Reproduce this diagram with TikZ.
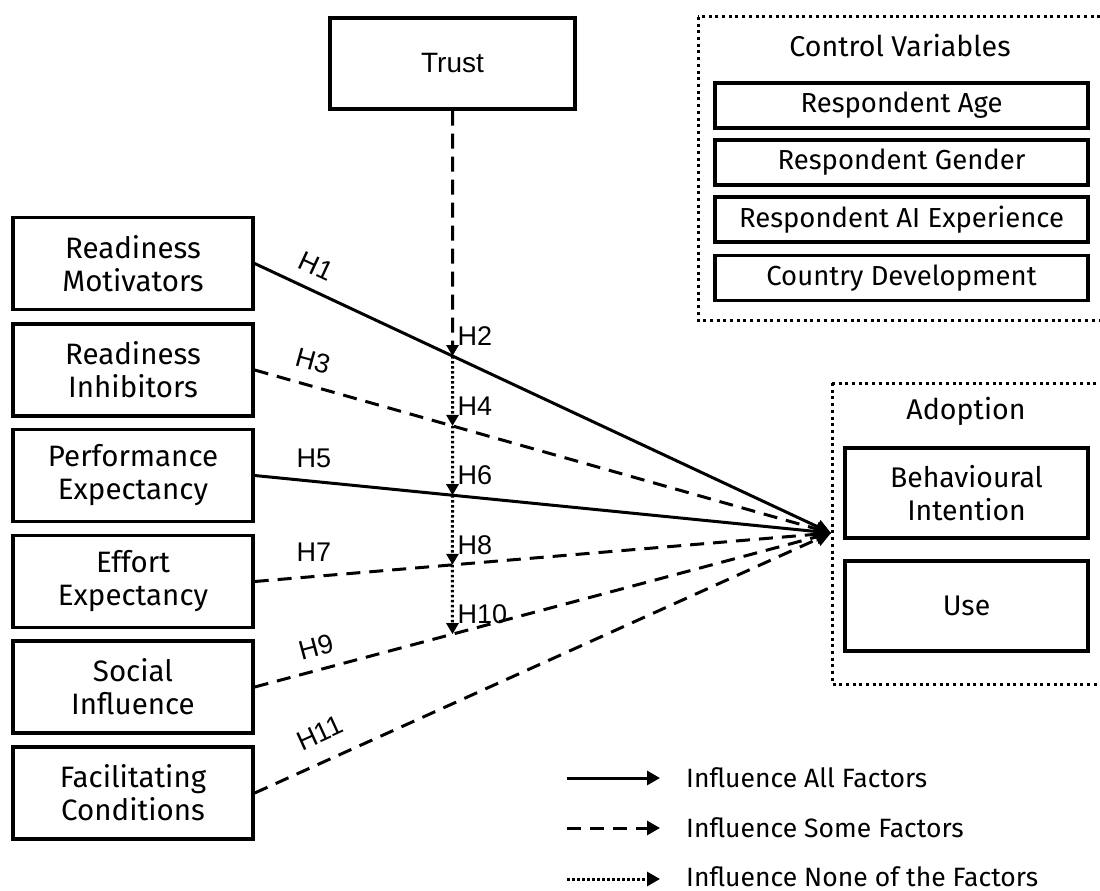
\documentclass[tikz,border=0pt]{standalone}
\usepackage{fontspec}
\setmainfont{Fira Sans}
\newfontfamily\arialf{Liberation Sans}
\usetikzlibrary{arrows.meta,calc}
\begin{document}
\begin{tikzpicture}[x=1pt,y=-1pt,
  box/.style={draw,line width=3.4pt,minimum width=240pt,minimum height=92pt,align=center,inner sep=0pt,font=\fontsize{29.5}{33}\selectfont},
  cvbox/.style={draw,line width=3.4pt,minimum width=373pt,minimum height=45pt,inner sep=0pt,font=\fontsize{27.5}{30}\selectfont},
  adbox/.style={draw,line width=3.4pt,minimum width=243pt,minimum height=90pt,align=center,inner sep=0pt,font=\fontsize{28.4}{33}\selectfont},
  grp/.style={line width=3pt,dash pattern=on 3pt off 3.7pt},
  title/.style={font=\fontsize{28.6}{32}\selectfont},
  hlab/.style={font=\arialf\fontsize{27}{30}\selectfont,inner sep=0pt},
  solidc/.style={line width=3pt,-{Triangle[length=15pt,width=14pt]}},
  dashc/.style={line width=3pt,dash pattern=on 14pt off 9pt,-{Triangle[length=15pt,width=14pt]}},
  vdash/.style={line width=3pt,dash pattern=on 15pt off 8pt,-{Triangle[length=11pt,width=12pt]}},
  vdot/.style={line width=3pt,dash pattern=on 2.5pt off 2.5pt,-{Triangle[length=11pt,width=12pt]}},
  legtext/.style={anchor=west,font=\fontsize{26.5}{30}\selectfont,inner sep=0pt},
  legsolid/.style={line width=3pt,-{Triangle[length=13pt,width=14pt]}},
  legdash/.style={line width=3pt,dash pattern=on 14pt off 9pt,-{Triangle[length=13pt,width=14pt]}},
  legdot/.style={line width=3pt,dash pattern=on 2.5pt off 2.5pt,-{Triangle[length=13pt,width=14pt]}}
]
\useasboundingbox (0,0) rectangle (1100,891);

% Trust
\node[box,minimum width=245pt,minimum height=91pt,font=\arialf\fontsize{28}{33}\selectfont] (trust) at (452.5,63.5) {Trust};

% Left boxes
\node[box] (rm) at (133,263.5) {Readiness\\Motivators};
\node[box] (ri) at (133,370) {Readiness\\Inhibitors};
\node[box] (pe) at (133,475.5) {Performance\\Expectancy};
\node[box] (ee) at (133,581.5) {Effort\\Expectancy};
\node[box] (si) at (133,687) {Social\\Influence};
\node[box] (fc) at (133,793) {Facilitating\\Conditions};

% Control variables
\draw[grp] (698,17) rectangle (1112,320);
\node[title] (cvt) at (900,46) {Control Variables};
\node[cvbox] (age) at (901.5,105.5) {Respondent Age};
\node[cvbox] (gen) at (901.5,162.5) {Respondent Gender};
\node[cvbox] (aie) at (901.5,219.5) {Respondent AI Experience};
\node[cvbox] (cd) at (901.5,278) {Country Development};

% Adoption
\draw[grp] (832,383) rectangle (1112,684);
\node[title] (adt) at (966,411) {Adoption};
\node[adbox] (bi) at (966.5,493) {Behavioural\\Intention};
\node[adbox] (use) at (966.5,606) {Use};

\coordinate (tip) at (831,533);
\coordinate (vbot) at (452.5,900);

% main connectors
\draw[solidc] (rm.east) -- (tip);
\draw[dashc] (ri.east) -- (tip);
\draw[solidc] (pe.east) -- (tip);
\draw[dashc] (ee.east) -- (tip);
\draw[dashc] (si.east) -- (tip);
\draw[dashc] (fc.east) -- (tip);

% intersections with trust line
\coordinate (i1) at (intersection of trust.south--vbot and rm.east--tip);
\coordinate (i2) at (intersection of trust.south--vbot and ri.east--tip);
\coordinate (i3) at (intersection of trust.south--vbot and pe.east--tip);
\coordinate (i4) at (intersection of trust.south--vbot and ee.east--tip);
\coordinate (i5) at (intersection of trust.south--vbot and si.east--tip);

\draw[vdash] (trust.south) -- (i1);
\draw[vdot] (i1) -- (i2);
\draw[vdot] (i2) -- (i3);
\draw[vdot] (i3) -- (i4);
\draw[vdot] (i4) -- (i5);

\node[hlab,anchor=south west] at ($(i1)+(5,-10)$) {H2};
\node[hlab,anchor=south west] at ($(i2)+(5,-10)$) {H4};
\node[hlab,anchor=south west] at ($(i3)+(5,-10)$) {H6};
\node[hlab,anchor=south west] at ($(i4)+(5,-10)$) {H8};
\node[hlab,anchor=south west] at ($(i5)+(5,-10)$) {H10};

% path labels
\node[hlab,rotate=-25] at (316,266) {H1};
\node[hlab,rotate=-15.5] at (313,361) {H3};
\node[hlab] at (314,458) {H5};
\node[hlab] at (314,552) {H7};
\node[hlab,rotate=15] at (316,647) {H9};
\node[hlab,rotate=24.5] at (320,733) {H11};

% legend
\coordinate (l1a) at (567,778); \coordinate (l1b) at (660,778);
\coordinate (l2a) at (567,828); \coordinate (l2b) at (660,828);
\coordinate (l3a) at (567,879); \coordinate (l3b) at (660,879);
\draw[legsolid] (l1a) -- (l1b);
\draw[legdash] (l2a) -- (l2b);
\draw[legdot] (l3a) -- (l3b);
\node[legtext] (t1) at (686,778) {Influence All Factors};
\node[legtext] (t2) at (686,828) {Influence Some Factors};
\node[legtext] (t3) at (686,877) {Influence None of the Factors};
\end{tikzpicture}
\end{document}
